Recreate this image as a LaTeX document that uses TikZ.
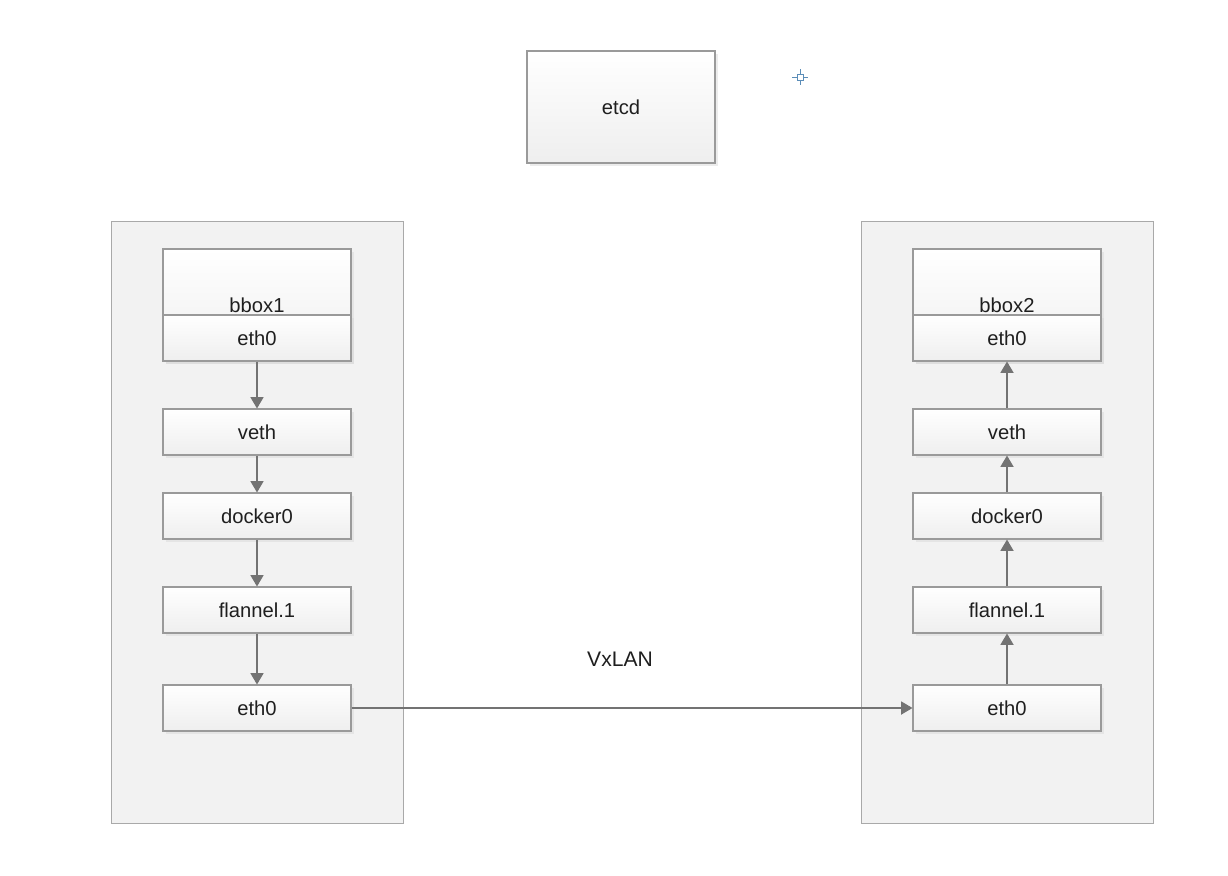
\documentclass[tikz,border=0pt]{standalone}
\usepackage{fontspec}
\setmainfont{Liberation Sans}
\usetikzlibrary{arrows.meta, shadows}

\definecolor{boxline}{HTML}{9A9A9A}
\definecolor{arrowgray}{HTML}{737373}
\definecolor{hostfill}{HTML}{F2F2F2}
\definecolor{markblue}{HTML}{5B8DB8}

\tikzset{
    iface/.style={draw=boxline, line width=0.6pt, top color=white, bottom color=gray!13,
        minimum width=3.76cm, minimum height=0.92cm, inner sep=0pt,
        drop shadow={shadow xshift=1.5pt, shadow yshift=-1.5pt, fill=gray!30},
        font=\fontsize{11.5}{14}\selectfont, text=black!88},
    host/.style={draw=boxline!85, line width=0.55pt, fill=hostfill},
    flow/.style={draw=arrowgray, line width=0.7pt, -{Triangle[length=6.5pt,width=7.5pt]}},
}

\begin{document}
\begin{tikzpicture}[x=0.02cm, y=-0.02cm]
        \useasboundingbox (0,0) rectangle (1228,876);

        % Key store
        \node[iface, minimum height=2.24cm] (etcd) at (621,107) {etcd};
        \draw[markblue, line width=0.5pt] (797,74) rectangle (803,80)
            (792,77) -- (797,77) (803,77) -- (808,77)
            (800,69) -- (800,74) (800,80) -- (800,85);

        % Hosts
        \filldraw[host] (111,221) rectangle (403,823);
        \filldraw[host] (861,221) rectangle (1153,823);

        % Left host
        \node[iface, minimum height=2.24cm] (bboxA) at (257,305) {bbox1};
        \node[iface] (ethA) at (257,338) {eth0};
        \node[iface] (vethA) at (257,432) {veth};
        \node[iface] (dockA) at (257,516) {docker0};
        \node[iface] (flanA) at (257,610) {flannel.1};
        \node[iface] (hostA) at (257,708) {eth0};

        % Right host
        \node[iface, minimum height=2.24cm] (bboxB) at (1007,305) {bbox2};
        \node[iface] (ethB) at (1007,338) {eth0};
        \node[iface] (vethB) at (1007,432) {veth};
        \node[iface] (dockB) at (1007,516) {docker0};
        \node[iface] (flanB) at (1007,610) {flannel.1};
        \node[iface] (hostB) at (1007,708) {eth0};

        % Paths
        \draw[flow] (ethA) -- (vethA);
        \draw[flow] (vethA) -- (dockA);
        \draw[flow] (dockA) -- (flanA);
        \draw[flow] (flanA) -- (hostA);
        \draw[flow] (hostA) -- (hostB);
        \draw[flow] (hostB) -- (flanB);
        \draw[flow] (flanB) -- (dockB);
        \draw[flow] (dockB) -- (vethB);
        \draw[flow] (vethB) -- (ethB);

        % Labels
        \node[font=\fontsize{12}{14}\selectfont, text=black!88] (vx) at (620,659) {VxLAN};
    \end{tikzpicture}
\end{document}
